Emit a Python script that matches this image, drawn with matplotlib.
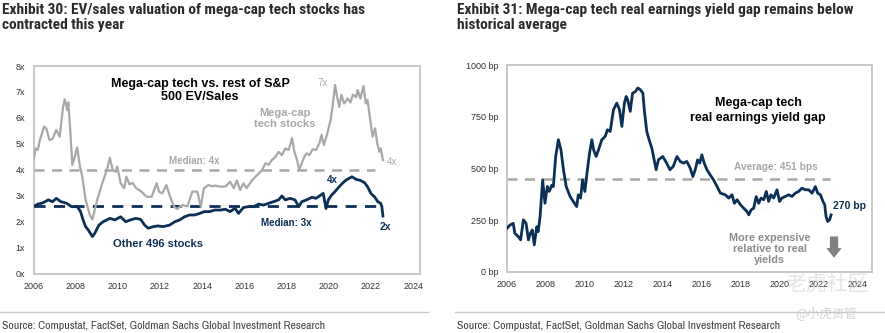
import numpy as np
import matplotlib.pyplot as plt
import matplotlib.ticker as mticker
import matplotlib.font_manager as fm

# EV/sales, mega-cap tech stocks (x)
mega_years = [2006.0, 2006.1, 2006.2, 2006.3, 2006.5, 2006.6, 2006.76, 2006.9, 2007.08, 2007.24,
              2007.4, 2007.48, 2007.6, 2007.65, 2007.73, 2007.84, 2007.95, 2008.07, 2008.2, 2008.3,
              2008.47, 2008.67, 2008.79, 2009.02, 2009.26, 2009.5, 2009.62, 2009.75, 2009.9, 2009.97,
              2010.13, 2010.3, 2010.4, 2010.55, 2010.7, 2010.87, 2011.12, 2011.36, 2011.6, 2011.84,
              2011.95, 2012.1, 2012.3, 2012.48, 2012.66, 2012.8, 2013.06, 2013.3, 2013.53, 2013.77,
              2013.93, 2014.08, 2014.3, 2014.46, 2014.6, 2014.86, 2015.1, 2015.32, 2015.5, 2015.64,
              2015.8, 2015.96, 2016.1, 2016.36, 2016.6, 2016.84, 2017.0, 2017.15, 2017.3, 2017.47,
              2017.62, 2017.78, 2017.94, 2018.1, 2018.26, 2018.37, 2018.5, 2018.6, 2018.72, 2018.84,
              2018.95, 2019.08, 2019.24, 2019.4, 2019.56, 2019.66, 2019.77, 2019.93, 2020.09, 2020.2,
              2020.3, 2020.4, 2020.5, 2020.6, 2020.73, 2020.9, 2021.03, 2021.15, 2021.3, 2021.37,
              2021.5, 2021.65, 2021.76, 2021.84, 2021.97, 2022.08, 2022.2, 2022.3, 2022.4, 2022.47,
              2022.57]
mega_evs = [4.38, 4.83, 4.77, 5.15, 5.67, 5.6, 5.15, 5.2, 5.54, 5.28,
            6.43, 6.72, 6.3, 6.6, 5.67, 4.19, 4.5, 4.87, 4.13, 3.8,
            2.85, 2.27, 2.1, 2.85, 3.49, 4.06, 4.48, 4.0, 3.93, 4.13,
            3.49, 3.3, 3.74, 3.45, 3.5, 3.3, 3.17, 2.97, 2.97, 3.49,
            3.17, 3.1, 3.42, 2.97, 2.59, 2.5, 2.65, 2.6, 3.17, 3.17,
            2.59, 3.3, 3.42, 3.37, 3.4, 3.36, 3.36, 3.55, 3.3, 3.6,
            3.23, 3.49, 3.3, 3.6, 3.8, 4.0, 4.26, 4.2, 4.38, 4.5,
            4.7, 4.57, 4.83, 4.77, 5.22, 4.7, 4.38, 4.0, 4.26, 4.5,
            4.64, 4.57, 4.8, 4.77, 5.03, 5.35, 4.96, 5.4, 5.92, 6.56,
            7.27, 6.8, 6.43, 6.9, 6.56, 6.75, 6.6, 6.9, 6.8, 7.08,
            6.75, 7.23, 6.56, 6.7, 5.92, 5.28, 5.6, 5.03, 4.7, 4.83,
            4.38]

# EV/sales, other 496 S&P 500 stocks (x)
rest_years = [2006.0, 2006.2, 2006.4, 2006.7, 2006.9, 2007.08, 2007.3, 2007.57, 2007.8, 2008.07,
              2008.23, 2008.35, 2008.47, 2008.6, 2008.79, 2008.9, 2009.1, 2009.3, 2009.62, 2009.86,
              2010.13, 2010.37, 2010.6, 2010.84, 2011.08, 2011.27, 2011.44, 2011.68, 2011.9, 2012.14,
              2012.45, 2012.7, 2012.93, 2013.16, 2013.4, 2013.64, 2013.88, 2014.1, 2014.35, 2014.6,
              2014.86, 2015.1, 2015.32, 2015.56, 2015.72, 2015.96, 2016.2, 2016.44, 2016.68, 2016.9,
              2017.15, 2017.38, 2017.62, 2017.78, 2017.94, 2018.17, 2018.4, 2018.58, 2018.72, 2018.95,
              2019.2, 2019.4, 2019.56, 2019.74, 2019.87, 2019.98, 2020.14, 2020.3, 2020.5, 2020.65,
              2020.8, 2020.97, 2021.1, 2021.3, 2021.5, 2021.7, 2021.84, 2022.0, 2022.17, 2022.33,
              2022.46, 2022.52, 2022.57]
rest_evs = [2.59, 2.69, 2.72, 2.85, 2.78, 2.91, 2.78, 2.72, 2.59, 2.59,
            2.4, 2.08, 1.82, 1.69, 1.44, 1.56, 1.88, 2.01, 2.14, 2.08,
            2.2, 2.01, 2.08, 2.14, 2.1, 1.88, 1.76, 1.82, 1.85, 1.82,
            1.88, 2.01, 2.08, 2.2, 2.27, 2.27, 2.33, 2.4, 2.4, 2.46,
            2.46, 2.49, 2.4, 2.53, 2.33, 2.56, 2.59, 2.59, 2.69, 2.65,
            2.72, 2.78, 2.85, 3.0, 2.85, 2.91, 2.85, 2.59, 2.78, 2.85,
            2.95, 2.91, 3.0, 3.1, 2.52, 2.85, 3.04, 3.17, 3.36, 3.49,
            3.6, 3.68, 3.74, 3.64, 3.6, 3.51, 3.36, 3.1, 2.97, 2.78,
            2.72, 2.59, 2.23]

mega_median = 4.0
rest_median = 2.6

# Mega-cap tech real earnings yield gap (bp)
gap_years = [2006.0, 2006.15, 2006.32, 2006.4, 2006.58, 2006.7, 2006.84, 2006.98, 2007.1, 2007.2,
             2007.3, 2007.4, 2007.53, 2007.6, 2007.7, 2007.83, 2007.95, 2008.07, 2008.17, 2008.3,
             2008.38, 2008.5, 2008.64, 2008.77, 2008.9, 2009.04, 2009.24, 2009.4, 2009.58, 2009.66,
             2009.78, 2009.88, 2010.0, 2010.13, 2010.24, 2010.36, 2010.45, 2010.58, 2010.7, 2010.87,
             2011.04, 2011.16, 2011.3, 2011.47, 2011.64, 2011.78, 2011.9, 2012.03, 2012.12, 2012.2,
             2012.33, 2012.45, 2012.6, 2012.72, 2012.84, 2012.98, 2013.06, 2013.18, 2013.3, 2013.44,
             2013.56, 2013.66, 2013.78, 2014.0, 2014.2, 2014.37, 2014.54, 2014.73, 2014.9, 2015.07,
             2015.24, 2015.41, 2015.55, 2015.67, 2015.79, 2015.9, 2016.01, 2016.13, 2016.27, 2016.44,
             2016.61, 2016.79, 2016.96, 2017.22, 2017.39, 2017.56, 2017.68, 2017.82, 2017.99, 2018.16,
             2018.33, 2018.42, 2018.54, 2018.67, 2018.8, 2018.93, 2019.05, 2019.19, 2019.32, 2019.44,
             2019.56, 2019.7, 2019.87, 2020.0, 2020.12, 2020.3, 2020.47, 2020.64, 2020.81, 2020.98,
             2021.15, 2021.33, 2021.5, 2021.67, 2021.84, 2021.96, 2022.1, 2022.23, 2022.32, 2022.39,
             2022.47, 2022.57, 2022.65]
gap_bp = [211, 227, 235, 187, 171, 155, 252, 235, 155, 187,
          203, 131, 219, 195, 268, 445, 332, 413, 389, 419,
          413, 558, 639, 590, 494, 413, 365, 341, 316, 373,
          357, 445, 389, 494, 574, 639, 590, 558, 590, 639,
          655, 687, 679, 784, 816, 784, 703, 816, 848, 832,
          776, 864, 872, 889, 881, 864, 776, 679, 639, 598,
          542, 494, 542, 558, 526, 494, 510, 558, 534, 526,
          534, 502, 461, 494, 542, 526, 566, 526, 494, 469,
          445, 413, 381, 373, 357, 373, 332, 349, 325, 308,
          292, 276, 300, 308, 364, 332, 357, 349, 389, 341,
          373, 357, 397, 341, 357, 365, 373, 365, 381, 389,
          405, 397, 397, 381, 413, 381, 373, 341, 325, 268,
          244, 252, 276]

gap_average = 451

year_ticks = list(range(2006, 2025, 2))
ev_ticks = list(range(0, 9))
bp_ticks = [0, 250, 500, 750, 1000]

navy = '#0c2f55'
grey = '#a8a8a8'
text_dark = '#2b2b2b'
plain = ['Liberation Sans', 'DejaVu Sans']


def weight_num(w):
    return w if isinstance(w, int) else fm.weight_dict.get(w, 400)


def first_font(names, min_weight=0):
    for n in names:
        for f in fm.fontManager.ttflist:
            if f.name == n and weight_num(f.weight) >= min_weight:
                return n
    return None


# narrow faces for titles (bold) and source lines (regular)
bold_narrow = first_font(['Archivo Narrow', 'Roboto Condensed', 'IBM Plex Sans Condensed',
                          'Fira Sans Condensed', 'Asap Condensed'], 650)
reg_narrow = first_font(['Archivo Narrow', 'Roboto Condensed', 'IBM Plex Sans Condensed'])
if bold_narrow:
    title_font = dict(family=[bold_narrow, 'DejaVu Sans'])
    title_size = 11.1
else:
    title_font = dict(family=['DejaVu Sans'], fontstretch='condensed')
    title_size = 9.5
if reg_narrow:
    source_font = dict(family=[reg_narrow, 'DejaVu Sans'])
    source_size = 8.5
else:
    source_font = dict(family=['DejaVu Sans'], fontstretch='condensed')
    source_size = 7.0

fig = plt.figure(figsize=(8.85, 3.33), dpi=100)


def style_axes(ax):
    for s in ax.spines.values():
        s.set_color('#c4c4c4')
        s.set_linewidth(1.3)
    ax.tick_params(length=0, labelsize=6.5, colors='#333333', pad=6)
    for lab in ax.get_xticklabels() + ax.get_yticklabels():
        lab.set_family(plain)


# left panel: EV/sales
ax1 = fig.add_axes([0.0379, 0.1772, 0.4367, 0.6246])
ax1.plot(mega_years, mega_evs, color=grey, lw=1.6, zorder=3)
ax1.plot(rest_years, rest_evs, color=navy, lw=2.0, zorder=4)
ax1.hlines(mega_median, 2006, 2022.2, colors=grey, lw=1.8, linestyles=(0, (4, 3)), zorder=2)
ax1.hlines(rest_median, 2006, 2022.4, colors=navy, lw=2.0, linestyles=(0, (4, 3)), zorder=2)
ax1.set_xlim(2006, 2024.33)
ax1.set_ylim(0, 8)
ax1.set_xticks(year_ticks)
ax1.set_yticks(ev_ticks)
ax1.yaxis.set_major_formatter(mticker.FuncFormatter(lambda v, p: f'{int(v)}x'))
style_axes(ax1)

ax1.text(2013.9, 7.06, 'Mega-cap tech vs. rest of S&P\n500 EV/Sales', ha='center', va='center',
         fontsize=9, fontweight='bold', color='black', family=plain, linespacing=1.2)
ax1.text(2019.7, 7.35, '7x', ha='center', va='center', fontsize=7, color=grey, family=plain)
ax1.text(2017.9, 5.98, 'Mega-cap\ntech stocks', ha='center', va='center', fontsize=8,
         fontweight='bold', color=grey, family=plain, linespacing=1.05)
ax1.text(2013.6, 4.35, 'Median: 4x', ha='center', va='center', fontsize=7,
         fontweight='bold', color=grey, family=plain)
ax1.text(2022.76, 4.3, '4x', ha='left', va='center', fontsize=7, color=grey, family=plain)
ax1.text(2020.15, 3.6, '4x', ha='center', va='center', fontsize=7, fontweight='bold',
         color=navy, family=plain)
ax1.text(2018.0, 1.97, 'Median: 3x', ha='center', va='center', fontsize=7,
         fontweight='bold', color=navy, family=plain)
ax1.text(2022.4, 1.8, '2x', ha='left', va='center', fontsize=7.5, fontweight='bold',
         color=navy, family=plain)
ax1.text(2011.9, 1.15, 'Other 496 stocks', ha='center', va='center', fontsize=8,
         fontweight='bold', color=navy, family=plain)

# right panel: real earnings yield gap
ax2 = fig.add_axes([0.5729, 0.1832, 0.4124, 0.6216])
ax2.plot(gap_years, gap_bp, color=navy, lw=2.0, zorder=3)
ax2.hlines(gap_average, 2006, 2022.6, colors=grey, lw=1.8, linestyles=(0, (4, 3)), zorder=2)
ax2.set_xlim(2006, 2024.75)
ax2.set_ylim(0, 1000)
ax2.set_xticks(year_ticks)
ax2.set_yticks(bp_ticks)
ax2.yaxis.set_major_formatter(mticker.FuncFormatter(lambda v, p: f'{int(v)} bp'))
style_axes(ax2)

ax2.text(2018.9, 780, 'Mega-cap tech\nreal earnings yield gap', ha='center', va='center',
         fontsize=9, fontweight='bold', color='black', family=plain, linespacing=1.25)
ax2.text(2019.8, 508, 'Average: 451 bps', ha='center', va='center', fontsize=7.3,
         fontweight='bold', color=grey, family=plain)
ax2.text(2022.75, 320, '270 bp', ha='left', va='center', fontsize=7.5,
         fontweight='bold', color=navy, family=plain)
ax2.text(2019.5, 111, 'More expensive\nrelative to real\nyields', ha='center', va='center',
         fontsize=7.8, fontweight='bold', color='#8c8c8c', family=plain, linespacing=1.1)
ax2.annotate('', xy=(2022.8, 55), xytext=(2022.8, 185),
             arrowprops=dict(arrowstyle='simple,head_width=1.1,head_length=0.7,tail_width=0.6',
                             color='#808080', lw=0))

# titles, rules and sources
fig.text(0.002, 0.99, 'Exhibit 30: EV/sales valuation of mega-cap tech stocks has\ncontracted this year',
         ha='left', va='top', fontsize=title_size, fontweight='bold', color=text_dark,
         linespacing=1.1, **title_font)
fig.text(0.516, 0.99, 'Exhibit 31: Mega-cap tech real earnings yield gap remains below\nhistorical average',
         ha='left', va='top', fontsize=title_size, fontweight='bold', color=text_dark,
         linespacing=1.1, **title_font)

fig.add_artist(plt.Line2D([0.0, 0.484], [0.063, 0.063], color='#c8c8c8', lw=1.0))
fig.add_artist(plt.Line2D([0.514, 1.0], [0.063, 0.063], color='#c8c8c8', lw=1.0))
fig.text(0.002, 0.022, 'Source: Compustat, FactSet, Goldman Sachs Global Investment Research',
         ha='left', va='center', fontsize=source_size, color='#444444', **source_font)
fig.text(0.516, 0.022, 'Source: Compustat, FactSet, Goldman Sachs Global Investment Research',
         ha='left', va='center', fontsize=source_size, color='#444444', **source_font)

# faint watermark
cjk = ['Noto Sans CJK SC', 'DejaVu Sans']
fig.text(0.934, 0.148, '老虎社区', ha='center', va='center', fontsize=15, color='#d4d4d4',
         alpha=0.6, family=cjk)
fig.text(0.933, 0.06, '@小虎资管', ha='center', va='center', fontsize=9, color='#c8c8c8',
         alpha=0.8, family=cjk)

fig.savefig('out.png', dpi=100)
